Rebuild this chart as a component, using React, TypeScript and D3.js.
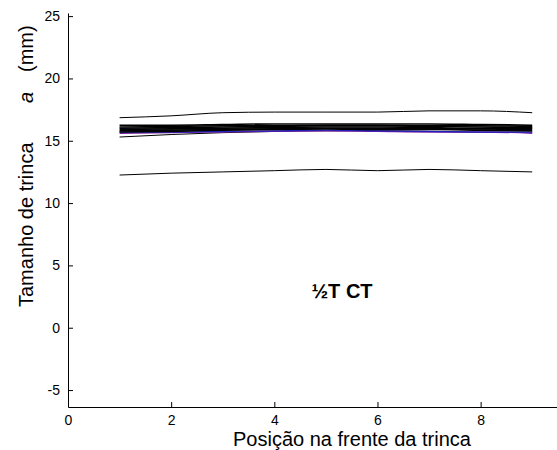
import * as d3 from "d3";
import { useEffect, useRef } from "react";

// crack front positions
const positions = [1, 2, 3, 4, 5, 6, 7, 8, 9];

// crack size a (mm) per measurement
const upperCurve = [16.85, 17.0, 17.25, 17.3, 17.3, 17.3, 17.4, 17.4, 17.25];
const lowerCurve = [12.25, 12.4, 12.5, 12.6, 12.7, 12.6, 12.7, 12.6, 12.5];
const band1 = [16.25, 16.25, 16.3, 16.35, 16.35, 16.35, 16.35, 16.3, 16.25];
const band2 = [16.1, 16.15, 16.2, 16.2, 16.25, 16.25, 16.2, 16.2, 16.15];
const band3 = [16.0, 16.05, 16.1, 16.15, 16.2, 16.2, 16.15, 16.1, 16.05];
const band4 = [15.9, 15.95, 16.0, 16.05, 16.1, 16.1, 16.05, 16.0, 16.0];
const band5 = [15.8, 15.85, 15.9, 15.95, 16.0, 16.0, 15.95, 15.95, 15.9];
const band6 = [15.7, 15.75, 15.85, 15.9, 15.95, 15.9, 15.9, 15.85, 15.8];
const thinLow = [15.3, 15.5, 15.65, 15.75, 15.8, 15.8, 15.75, 15.7, 15.7];
const purpleCurve = [15.6, 15.65, 15.7, 15.75, 15.8, 15.75, 15.7, 15.7, 15.6];
const blueCurve = [15.7, 15.7, 15.75, 15.8, 15.85, 15.8, 15.75, 15.7, 15.7];

const xTicks = [0, 2, 4, 6, 8];
const yTicks = [-5, 0, 5, 10, 15, 20, 25];

const series = [
	{ values: upperCurve, color: "#000", width: 1 },
	{ values: lowerCurve, color: "#000", width: 1 },
	{ values: thinLow, color: "#000", width: 1 },
	{ values: purpleCurve, color: "#7a1fa2", width: 1.2 },
	{ values: blueCurve, color: "#2020c0", width: 1.2 },
	{ values: band6, color: "#000", width: 1.6 },
	{ values: band5, color: "#000", width: 1.6 },
	{ values: band4, color: "#000", width: 1.6 },
	{ values: band3, color: "#000", width: 1.6 },
	{ values: band2, color: "#000", width: 1.6 },
	{ values: band1, color: "#000", width: 1.6 },
];

const App = () => {
	const svgRef = useRef<SVGSVGElement>(null);

	useEffect(() => {
		const width = 557,
			height = 450;
		const left = 68,
			right = 558,
			top = 13,
			bottom = 407;
		const font = "'Liberation Sans', Arial, sans-serif";

		const svg = d3.select(svgRef.current).html("");
		svg.attr("width", width).attr("height", height);

		const x = d3.scaleLinear().domain([0, 9.5]).range([left, right]);
		const y = d3.scaleLinear().domain([-6.36, 25.25]).range([bottom, top]);

		const line = d3
			.line<number>()
			.x((d, i) => x(positions[i]))
			.y((d) => y(d))
			.curve(d3.curveMonotoneX);

		series.forEach((s) => {
			svg.append("path")
				.datum(s.values)
				.attr("fill", "none")
				.attr("stroke", s.color)
				.attr("stroke-width", s.width)
				.attr("d", line);
		});

		// axes (left + bottom only, ticks pointing inward)
		const yAxis = svg
			.append("g")
			.attr("transform", `translate(${left},0)`)
			.call(
				d3.axisLeft(y).tickValues(yTicks).tickFormat((d) => String(d))
					.tickSizeInner(-5).tickSizeOuter(0).tickPadding(8)
			);
		const xAxis = svg
			.append("g")
			.attr("transform", `translate(0,${bottom})`)
			.call(
				d3.axisBottom(x).tickValues(xTicks).tickFormat((d) => String(d))
					.tickSizeInner(-5).tickSizeOuter(0).tickPadding(8)
			);
		[yAxis, xAxis].forEach((a) => {
			a.selectAll("text").style("font-family", font).style("font-size", "14px").attr("fill", "#000");
			a.selectAll("line").attr("stroke", "#000");
			a.select(".domain").attr("stroke", "#000");
		});

		svg.append("text")
			.attr("x", 352)
			.attr("y", 446)
			.attr("text-anchor", "middle")
			.style("font-family", font)
			.style("font-size", "20px")
			.text("Posição na frente da trinca");

		// y label in three pieces, placed along the rotated axis
		const yLabel = [
			{ text: "Tamanho de trinca", pos: 307, italic: false },
			{ text: "a", pos: 103, italic: true },
			{ text: "(mm)", pos: 72, italic: false },
		];
		yLabel.forEach((p) => {
			svg.append("text")
				.attr("transform", `translate(33,${p.pos}) rotate(-90)`)
				.attr("text-anchor", "start")
				.style("font-family", font)
				.style("font-size", "20px")
				.style("font-style", p.italic ? "italic" : "normal")
				.text(p.text);
		});

		svg.append("text")
			.attr("x", 342)
			.attr("y", 298)
			.attr("text-anchor", "middle")
			.style("font-family", font)
			.style("font-size", "20px")
			.style("font-weight", "bold")
			.text("½T CT");
	}, []);

	return (
		<div style={{ position: "absolute", left: 0, top: 0 }}>
			<svg ref={svgRef} style={{ display: "block", background: "#fff" }}></svg>
		</div>
	);
};

export default App;
